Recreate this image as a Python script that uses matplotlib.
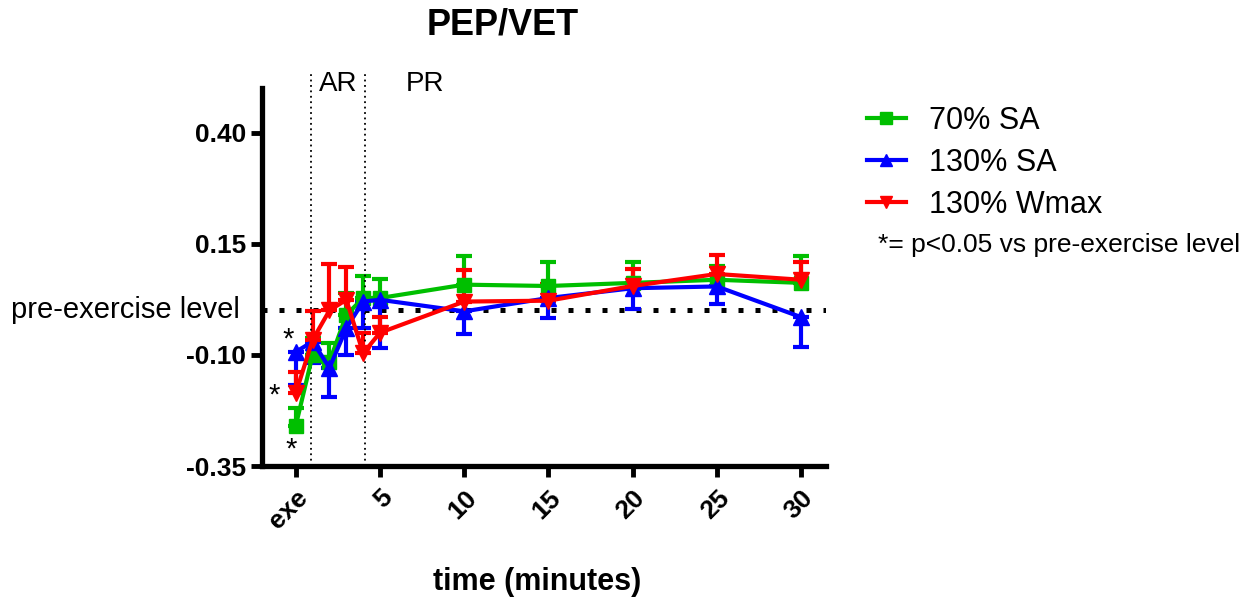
import numpy as np
import matplotlib
matplotlib.use("Agg")
from matplotlib import pyplot as plt
from matplotlib.lines import Line2D

plt.rcParams['font.family'] = ['Liberation Sans', 'DejaVu Sans']

# time points (0 = exe)
t = [0, 1, 2, 3, 4, 5, 10, 15, 20, 25, 30]

sa70 = [-0.259, -0.100, -0.115, -0.010, 0.028, 0.028, 0.058, 0.055, 0.062, 0.069, 0.062]
sa70_up = [0.040, 0.038, 0.042, 0.050, 0.050, 0.043, 0.065, 0.055, 0.048, 0.030, 0.061]

sa130 = [-0.093, -0.070, -0.129, -0.040, 0.020, 0.024, -0.002, 0.028, 0.050, 0.054, -0.015]
sa130_dn = [0.075, 0.047, 0.066, 0.060, 0.060, 0.108, 0.050, 0.044, 0.046, 0.039, 0.068]

wmax = [-0.186, -0.066, 0.000, 0.024, -0.096, -0.050, 0.020, 0.022, 0.055, 0.082, 0.069]
wmax_up = [0.048, 0.064, 0.105, 0.074, 0.046, 0.036, 0.070, 0.038, 0.039, 0.043, 0.039]

xticks = [0, 5, 10, 15, 20, 25, 30]
xticklabels = ['exe', '5', '10', '15', '20', '25', '30']
yticks = [-0.35, -0.10, 0.15, 0.40]

GREEN, BLUE, RED = '#00BF00', '#0000FF', '#FF0000'

fig = plt.figure(figsize=(12.54, 6.07), dpi=100)
ax = fig.add_axes([0.209, 0.232, 0.45, 0.623])

zeros = np.zeros(len(t))
kw = dict(lw=3, elinewidth=3, capsize=6, capthick=3, clip_on=False)
ax.errorbar(t, sa70, yerr=[zeros, sa70_up], color=GREEN, marker='s', ms=10, **kw)
ax.errorbar(t, sa130, yerr=[sa130_dn, zeros], color=BLUE, marker='^', ms=11, **kw)
ax.errorbar(t, wmax, yerr=[zeros, wmax_up], color=RED, marker='v', ms=11, **kw)

# pre-exercise level
ax.axhline(0, color='black', lw=3.6, ls=(0, (1, 2.4)), dash_capstyle='butt', zorder=1)
ax.text(-3.3, 0.002, 'pre-exercise level', ha='right', va='center', fontsize=21)

# recovery phases
for xv in (0.9, 4.1):
    ax.plot([xv, xv], [-0.35, 0.535], color='black', lw=1.3, ls=(0, (1, 2)), clip_on=False)
ax.text(2.5, 0.508, 'AR', ha='center', va='center', fontsize=20)
ax.text(7.7, 0.508, 'PR', ha='center', va='center', fontsize=20)

# significance marks
ax.text(-0.45, -0.066, '*', ha='center', va='center', fontsize=21)
ax.text(-1.3, -0.192, '*', ha='center', va='center', fontsize=21)
ax.text(-0.3, -0.312, '*', ha='center', va='center', fontsize=21)

ax.set_xlim(-2, 31.5)
ax.set_ylim(-0.35, 0.5)
ax.set_xticks(xticks)
ax.set_xticklabels(xticklabels, rotation=45, ha='right', rotation_mode='anchor',
                   fontsize=19, fontweight='bold')
ax.set_yticks(yticks)
ax.set_yticklabels(['%.2f' % v for v in yticks], fontsize=19, fontweight='bold')
ax.tick_params(width=3.5, length=8)
ax.tick_params(axis='x', pad=6)

for s in ('top', 'right'):
    ax.spines[s].set_visible(False)
for s in ('left', 'bottom'):
    ax.spines[s].set_linewidth(3.8)

fig.text(503 / 1254, 1 - 25 / 607, 'PEP/VET', fontsize=26, fontweight='bold',
         ha='center', va='center')
fig.text(537 / 1254, 1 - 582 / 607, 'time (minutes)', fontsize=22, fontweight='bold',
         ha='center', va='center')

handles = [Line2D([], [], color=GREEN, lw=3, marker='s', ms=8),
           Line2D([], [], color=BLUE, lw=3, marker='^', ms=9),
           Line2D([], [], color=RED, lw=3, marker='v', ms=9)]
ax.legend(handles, ['70% SA', '130% SA', '130% Wmax'], loc='upper left',
          bbox_to_anchor=(0.691, 0.826), bbox_transform=fig.transFigure,
          frameon=False, fontsize=22, handlelength=1.3, handletextpad=0.75,
          labelspacing=0.4, borderpad=0, borderaxespad=0)
fig.text(0.700, 1 - 245 / 607, '*= p<0.05 vs pre-exercise level', fontsize=19, va='center')

fig.savefig('out.png', dpi=100)
